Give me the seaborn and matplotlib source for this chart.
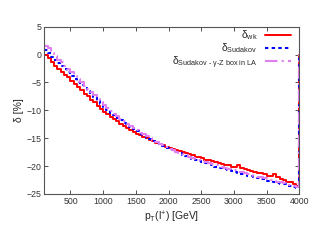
import numpy as np
import pandas as pd
import matplotlib
matplotlib.use("Agg")
import matplotlib.pyplot as plt
import seaborn as sns

# bin low edges in pT [GeV], 50 GeV bins from 100 to 4000
pt_edges = np.arange(100, 4001, 50)

delta_wk = [0.0, -0.7, -1.4, -2.0, -2.6, -3.1, -3.6, -4.1, -4.7, -5.3,
            -5.8, -6.4, -7.0, -7.5, -8.1, -8.6, -9.2, -9.7, -10.3, -10.7,
            -11.2, -11.6, -12.0, -12.4, -12.8, -13.1, -13.5, -13.9, -14.2, -14.5,
            -14.8, -15.0, -15.3, -15.6, -15.8, -16.1, -16.3, -16.6, -16.8, -17.0,
            -17.2, -17.3, -17.5, -17.7, -17.9, -18.1, -18.3, -18.4, -18.5, -18.9,
            -19.0, -19.1, -19.3, -19.4, -19.6, -19.8, -19.9, -20.1, -20.1, -19.9,
            -20.4, -20.6, -20.8, -20.9, -21.1, -21.2, -21.3, -21.5, -21.7, -21.7,
            -21.4, -22.0, -22.4, -22.5, -22.8, -22.9, -23.2, -23.5]

delta_sudakov = [0.9, 0.3, -0.4, -0.9, -1.5, -2.0, -2.6, -3.2, -3.8, -4.3,
                 -4.9, -5.5, -6.0, -6.6, -7.2, -7.7, -8.3, -8.9, -9.4, -9.9,
                 -10.4, -10.9, -11.3, -11.8, -12.2, -12.6, -13.0, -13.4, -13.8, -14.2,
                 -14.5, -14.9, -15.2, -15.5, -15.8, -16.1, -16.4, -16.7, -17.0, -17.2,
                 -17.5, -17.7, -18.0, -18.2, -18.4, -18.7, -18.9, -19.1, -19.3, -19.5,
                 -19.7, -19.9, -20.1, -20.3, -20.4, -20.6, -20.8, -20.9, -21.1, -21.2,
                 -21.4, -21.5, -21.7, -21.8, -22.0, -22.1, -22.3, -22.4, -22.6, -22.7,
                 -22.9, -23.0, -23.2, -23.3, -23.5, -23.6, -23.8, -23.9]

delta_sud_box = [1.5, 1.2, 0.3, -0.3, -0.9, -1.4, -2.0, -2.6, -3.2, -3.8,
                 -4.4, -5.0, -5.6, -6.2, -6.8, -7.3, -7.9, -8.5, -9.0, -9.6,
                 -10.1, -10.6, -11.0, -11.5, -11.9, -12.4, -12.8, -13.2, -13.6, -14.0,
                 -14.3, -14.7, -15.0, -15.4, -15.7, -16.0, -16.3, -16.6, -16.9, -17.1,
                 -17.4, -17.6, -17.8, -18.1, -18.3, -18.5, -18.7, -18.9, -19.1, -19.3,
                 -19.5, -19.7, -19.9, -20.0, -20.2, -20.4, -20.5, -20.7, -20.8, -21.0,
                 -21.1, -21.3, -21.4, -21.6, -21.7, -21.9, -22.0, -22.2, -22.3, -22.5,
                 -22.6, -22.8, -22.9, -23.1, -23.2, -23.4, -23.5, -23.7]

labels = ["δ$_{\\mathrm{wk}}$", "δ$_{\\mathrm{Sudakov}}$",
          "δ$_{\\text{Sudakov - γ-Z box in LA}}$"]

sns.set_style("ticks")
plt.rcParams["font.family"] = ["Liberation Sans", "DejaVu Sans"]
plt.rcParams["mathtext.fontset"] = "custom"
plt.rcParams["mathtext.rm"] = "Liberation Sans"
plt.rcParams["mathtext.it"] = "Liberation Sans:italic"
plt.rcParams["mathtext.default"] = "regular"


def step_frame(vals):
    # histogram steps, dropping back to 0 at the upper end
    x = list(pt_edges) + [pt_edges[-1]]
    y = list(vals) + [vals[-1], 0.0]
    return pd.DataFrame({"pt": x, "delta": y})


fig = plt.figure(figsize=(3.19, 2.47), dpi=100)
ax = fig.add_axes([0.139, 0.215, 0.799, 0.677])

sns.lineplot(data=step_frame(delta_wk), x="pt", y="delta", ax=ax, sort=False,
             estimator=None, drawstyle="steps-post", color="#ff0000", lw=1.4,
             label=labels[0])
sns.lineplot(data=step_frame(delta_sudakov), x="pt", y="delta", ax=ax, sort=False,
             estimator=None, drawstyle="steps-post", color="#0000ff", lw=1.5,
             linestyle=(0, (1.6, 1.6)), label=labels[1])
sns.lineplot(data=step_frame(delta_sud_box), x="pt", y="delta", ax=ax, sort=False,
             estimator=None, drawstyle="steps-post", color="#e080f0", lw=1.5,
             linestyle=(0, (6, 2, 1, 2)), label=labels[2])

ax.set_xlim(100, 4000)
ax.set_ylim(-25, 5)
ax.set_xticks([500, 1000, 1500, 2000, 2500, 3000, 3500, 4000])
ax.set_yticks([-25, -20, -15, -10, -5, 0, 5])
ax.tick_params(direction="in", length=3, width=0.6, labelsize=6.3,
               top=True, right=True, colors="#333333", pad=2)
for s in ax.spines.values():
    s.set_color("#555555")
    s.set_linewidth(0.8)

ax.set_xlabel("p$_{\\mathrm{T}}$(l$^{+}$) [GeV]", fontsize=7.5, labelpad=3)
ax.set_ylabel("δ [%]", fontsize=7.5, labelpad=2)

ax.legend(loc="upper right", bbox_to_anchor=(0.967, 0.99), frameon=False,
          markerfirst=False, fontsize=7.5, handlelength=2.5, handletextpad=0.7,
          labelspacing=-0.08, borderaxespad=0, borderpad=0)

fig.savefig("out.png", dpi=100)
